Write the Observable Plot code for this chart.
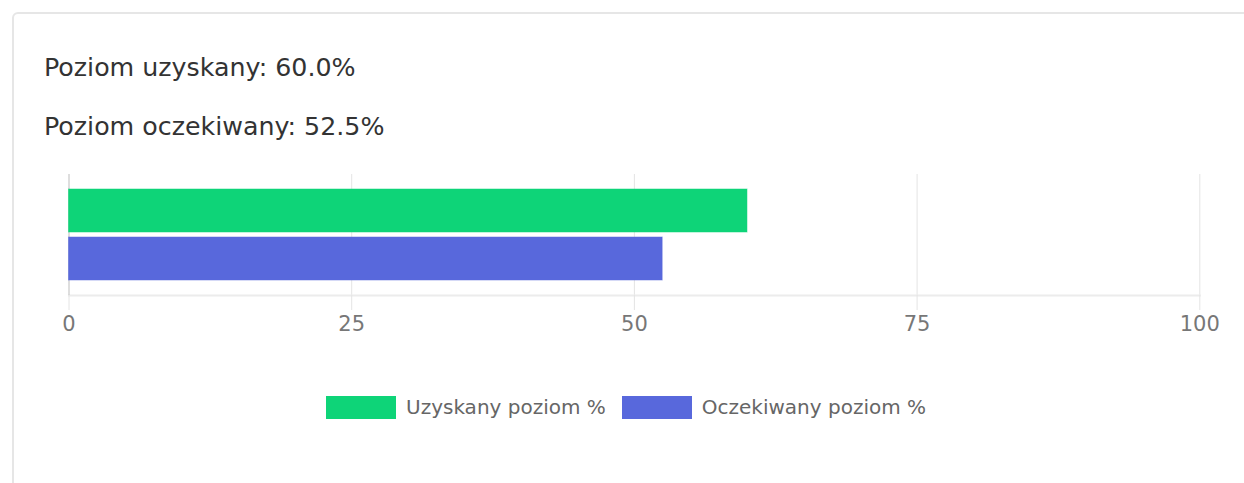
<!DOCTYPE html>
<html>
<head>
<meta charset="utf-8">
<script src="https://cdn.jsdelivr.net/npm/d3@7"></script>
<script src="https://cdn.jsdelivr.net/npm/@observablehq/plot@0.6"></script>
<style>
  html, body { margin: 0; padding: 0; background: #fff; width: 1244px; height: 483px; overflow: hidden; }
  #card { position: absolute; left: 12px; top: 12px; width: 1300px; height: 520px; border: 2px solid #e6e6e6; border-radius: 6px; box-sizing: border-box; }
  .title { position: absolute; left: 44px; font-family: "DejaVu Sans", sans-serif; font-size: 25.3px; color: #333; white-space: nowrap; line-height: 1; }
  #chart { position: absolute; left: 0; top: 160px; }
  #legend { position: absolute; top: 395px; left: 326px; display: flex; align-items: center; font-family: "DejaVu Sans", sans-serif; font-size: 20px; color: #666; white-space: nowrap; }
  .sw { display: inline-block; width: 70px; height: 23px; margin-right: 10px; box-sizing: border-box; }
  .item { display: flex; align-items: center; margin-right: 16px; }
</style>
</head>
<body>
<div id="card"></div>
<div class="title" id="t1" style="top:55px"></div>
<div class="title" id="t2" style="top:114px"></div>
<div id="chart"></div>
<div id="legend"></div>
<script>
const series = ["Uzyskany poziom %", "Oczekiwany poziom %"];
const values = [60.0, 52.5];
const colors = ["#0ED478", "#5868DC"];
const xTicks = [0, 25, 50, 75, 100];
const titles = ["Poziom uzyskany: 60.0%", "Poziom oczekiwany: 52.5%"];

document.getElementById("t1").textContent = titles[0];
document.getElementById("t2").textContent = titles[1];

const data = series.map((s, i) => ({series: s, value: values[i]}));

const chart = Plot.plot({
  width: 1244,
  height: 180,
  marginLeft: 68.5,
  marginRight: 44.7,
  marginTop: 14,
  marginBottom: 45,
  style: {background: "transparent", fontFamily: "DejaVu Sans", fontSize: "21px", color: "#777"},
  x: {domain: [0, 100], ticks: xTicks, label: null},
  y: {domain: series, paddingInner: 0.1, paddingOuter: 0.3, axis: null},
  color: {domain: series, range: colors},
  marks: [
    Plot.ruleX(xTicks.slice(1), {stroke: "#e4e4e4", strokeWidth: 1}),
    Plot.frame({anchor: "bottom", stroke: "#ececec", strokeWidth: 2}),
    Plot.ruleX([0], {stroke: "#bdbdbd", strokeWidth: 1}),
    Plot.axisX({ticks: xTicks, tickSize: 15, tickPadding: 6, stroke: "#e4e4e4", fill: "#777", fontSize: 21, label: null, tickFormat: d => String(d)}),
    Plot.barX(data, {y: "series", x: "value", fill: "series", stroke: "series", strokeOpacity: 0.5, strokeWidth: 1})
  ]
});
document.getElementById("chart").appendChild(chart);

const legend = document.getElementById("legend");
series.forEach((s, i) => {
  const item = document.createElement("div");
  item.className = "item";
  const sw = document.createElement("span");
  sw.className = "sw";
  sw.style.background = colors[i];
  sw.style.border = "1px solid " + colors[i] + "80";
  const lab = document.createElement("span");
  lab.textContent = s;
  item.appendChild(sw);
  item.appendChild(lab);
  legend.appendChild(item);
});
</script>
</body>
</html>
